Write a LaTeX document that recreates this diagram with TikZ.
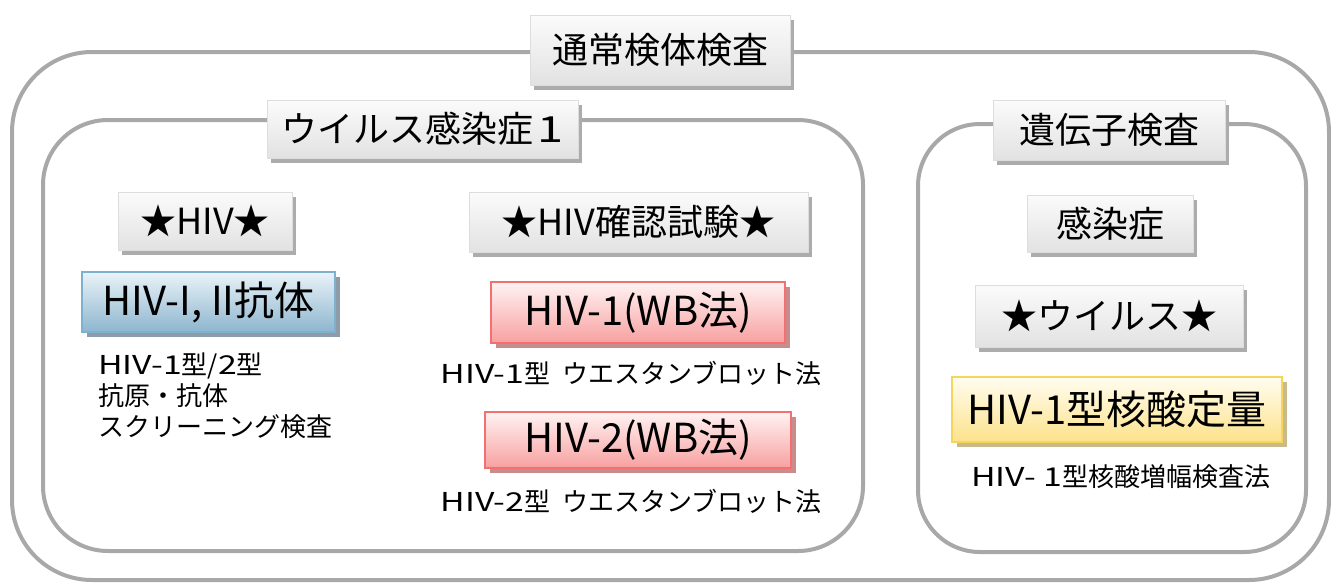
\documentclass[tikz,border=0pt]{standalone}
\usepackage{fontspec}
\setmainfont{Noto Sans CJK JP}
\newfontfamily\widelat[FakeStretch=1.3]{Noto Sans CJK JP}
\usetikzlibrary{shadows}
\definecolor{framegray}{HTML}{A8A8A8}
\definecolor{gtop}{HTML}{FBFBFB}
\definecolor{gbot}{HTML}{E2E2E2}
\definecolor{gborder}{HTML}{DDDDDD}
\definecolor{gshadow}{HTML}{ACACAC}
\definecolor{btop}{HTML}{EAF3F8}
\definecolor{bbot}{HTML}{8DB6CF}
\definecolor{bborder}{HTML}{7EB0D0}
\definecolor{bshadow}{HTML}{8C9CA8}
\definecolor{rtop}{HTML}{FFF3F3}
\definecolor{rbot}{HTML}{F8A0A0}
\definecolor{rborder}{HTML}{F27070}
\definecolor{rshadow}{HTML}{C98C8C}
\definecolor{ytop}{HTML}{FFFDF0}
\definecolor{ybot}{HTML}{FDE28A}
\definecolor{yborder}{HTML}{F7D45C}
\definecolor{yshadow}{HTML}{C9BA8C}
\tikzset{
  frameline/.style={draw=framegray, line width=4pt},
  boxbase/.style={inner sep=0pt, text=black},
  graybox/.style={boxbase, draw=gborder, line width=0.8pt, top color=gtop, bottom color=gbot,
    drop shadow={shadow xshift=4pt, shadow yshift=-5pt, fill=gshadow, opacity=1},
    font=\fontsize{36}{40}\selectfont},
  bluebox/.style={boxbase, draw=bborder, line width=2pt, top color=btop, bottom color=bbot,
    drop shadow={shadow xshift=5pt, shadow yshift=-5pt, fill=bshadow, opacity=1},
    font=\fontsize{40}{44}\selectfont},
  redbox/.style={boxbase, draw=rborder, line width=2pt, top color=rtop, bottom color=rbot,
    drop shadow={shadow xshift=5pt, shadow yshift=-5pt, fill=rshadow, opacity=1},
    font=\fontsize{40}{44}\selectfont},
  yellowbox/.style={boxbase, draw=yborder, line width=2pt, top color=ytop, bottom color=ybot,
    drop shadow={shadow xshift=5pt, shadow yshift=-5pt, fill=yshadow, opacity=1},
    font=\fontsize{40}{44}\selectfont},
  subtext/.style={inner sep=0pt, text=black, font=\fontsize{26}{31}\selectfont}
}
\begin{document}
\begin{tikzpicture}[x=1pt,y=-1pt]
\useasboundingbox[fill=white] (0,0) rectangle (1331,584);
% frames
\draw[frameline, rounded corners=80pt] (12,52) rectangle (1329,580);
\draw[frameline, rounded corners=65pt] (43,120) rectangle (863,551);
\draw[frameline, rounded corners=62pt] (918,124) rectangle (1306,552);
% titles
\node[graybox, minimum width=260pt, minimum height=70pt] (top) at (660,50) {通常検体検査};
\node[graybox, minimum width=311pt, minimum height=58pt] (virus1) at (422.5,129) {ウイルス感染症\hspace{4pt}{\widelat 1}};
\node[graybox, minimum width=232pt, minimum height=60pt] (gene) at (1109,130) {遺伝子検査};
% left column
\node[graybox, minimum width=174pt, minimum height=58pt] (hiv) at (205,221) {★HIV★};
\node[bluebox, minimum width=253pt, minimum height=60pt] (hivab) at (208.5,302) {HIV-I, II抗体};
\node[subtext, anchor=north west, align=left] (hivabt) at (98,353) {{\widelat HIV-1}型/{\widelat 2}型\\抗原・抗体\\スクリーニング検査};
% middle column
\node[graybox, minimum width=339pt, minimum height=60pt] (conf) at (638.5,222) {★HIV確認試験★};
\node[redbox, minimum width=294pt, minimum height=61pt] (wb1) at (638,312.5) {HIV-1(WB法)};
\node[subtext] (wb1t) at (631,373) {{\widelat HIV-1}型\hspace{12pt}ウエスタンブロット法};
\node[redbox, minimum width=306pt, minimum height=56pt] (wb2) at (638,440) {HIV-2(WB法)};
\node[subtext] (wb2t) at (631,501) {{\widelat HIV-2}型\hspace{12pt}ウエスタンブロット法};
% right column
\node[graybox, minimum width=166pt, minimum height=57pt] (kansen) at (1110,223.5) {感染症};
\node[graybox, minimum width=268pt, minimum height=62pt] (virus) at (1109,316) {★ウイルス★};
\node[yellowbox, minimum width=330pt, minimum height=65pt] (nuc) at (1117,409.5) {HIV-1型核酸定量};
\node[subtext] (nuct) at (1121,477) {{\widelat HIV- 1}型核酸増幅検査法};
\end{tikzpicture}
\end{document}
